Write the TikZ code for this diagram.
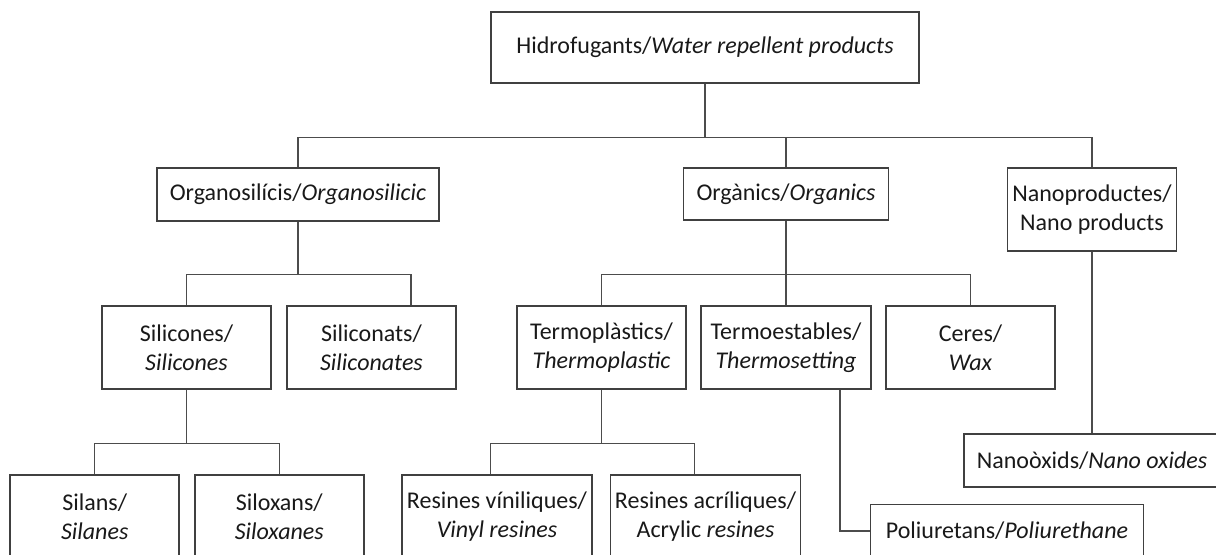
\documentclass[tikz,border=0pt]{standalone}
\usepackage{fontspec}
\setmainfont{Carlito}
\usetikzlibrary{calc}
\tikzset{
  bx/.style 2 args={draw=black!75, line width=1.1pt, fill=white, text=black!90,
    align=center, inner sep=0pt, minimum width=#1*0.75pt, minimum height=#2*0.75pt,
    font=\fontsize{18}{21.75}\selectfont},
  conn/.style={draw=black!70, line width=1.1pt}
}
\begin{document}
\begin{tikzpicture}[x=0.75pt,y=-0.75pt]
\useasboundingbox (0,0) rectangle (1216,554);
\fill[white] (0,0) rectangle (1216,554);
\clip (0,0) rectangle (1216,554);

\node[bx={428}{71}] (root) at (705,47.5) {Hidrofugants/\textit{Water repellent products}};
\node[bx={282}{53}] (orgsi) at (298,194.5) {Organosilícis/\textit{Organosilicic}};
\node[bx={205}{52}] (org) at (786,194) {Orgànics/\textit{Organics}};
\node[bx={169}{83}] (nano) at (1092,209.5) {Nanoproductes/\\Nano products};
\node[bx={169}{83}] (silicones) at (186.5,347.5) {Silicones/\\\textit{Silicones}};
\node[bx={169}{83}] (siliconats) at (371.5,347.5) {Siliconats/\\\textit{Siliconates}};
\node[bx={169}{83}] (termopl) at (601.5,347.5) {Termoplàstics/\\\textit{Thermoplastic}};
\node[bx={170}{83}] (termoest) at (786,347.5) {Termoestables/\\\textit{Thermosetting}};
\node[bx={169}{83}] (ceres) at (970.5,347.5) {Ceres/\\\textit{Wax}};
\node[bx={169}{83}] (silans) at (94.7,516.5) {Silans/\\\textit{Silanes}};
\node[bx={169}{83}] (siloxans) at (279.3,516.5) {Siloxans/\\\textit{Siloxanes}};
\node[bx={190}{83}] (vinil) at (497,516.5) {Resines víniliques/\\\textit{Vinyl resines}};
\node[bx={190}{83}] (acril) at (705.5,516.5) {Resines acríliques/\\Acrylic \textit{resines}};
\node[bx={273}{53}] (poli) at (1007,531) {Poliuretans/\textit{Poliurethane}};
\node[bx={256}{53}] (nanox) at (1092,460.5) {Nanoòxids/\textit{Nano oxides}};

% connectors
\draw[conn] (root.south) -- ++(0,54) coordinate (b0);
\draw[conn] (orgsi.north) |- (b0) -| (nano.north);
\draw[conn] (b0) -| (org.north);

\draw[conn] (orgsi.south) -- ++(0,53) coordinate (b1);
\draw[conn] (silicones.north) |- (b1) -| ($(siliconats.north)+(39.5,0)$);

\draw[conn] (silicones.south) -- ++(0,54) coordinate (b2);
\draw[conn] (silans.north) |- (b2) -| (siloxans.north);

\draw[conn] (org.south) -- ++(0,53.5) coordinate (b3) -- (termoest.north);
\draw[conn] (termopl.north) |- (b3) -| (ceres.north);

\draw[conn] (termopl.south) -- ++(0,54) coordinate (b4);
\draw[conn] ($(vinil.north)+(-6.5,0)$) |- (b4) -| ($(acril.north)+(-11,0)$);

\draw[conn] ($(termoest.south)+(54,0)$) |- (poli.west);

\draw[conn] (nano.south) -- (nanox.north);
\end{tikzpicture}
\end{document}
